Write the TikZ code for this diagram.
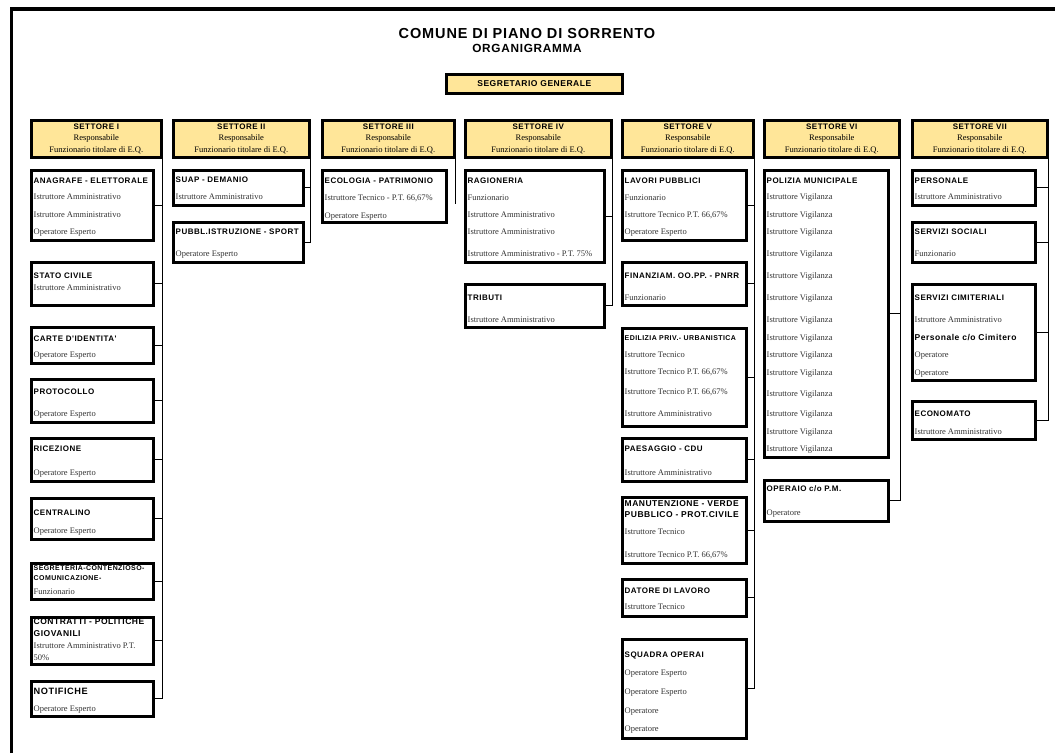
\documentclass[tikz,border=0pt]{standalone}
\usepackage{fontspec}
\setmainfont{Liberation Serif}
\setsansfont{Liberation Sans}
\newfontfamily\xlsans[LetterSpace=6]{Liberation Sans}
\usepackage{xcolor}
\definecolor{colorHeader}{RGB}{255,230,153}
\colorlet{colorStaff}{black!80}
\usepackage{tikz}
\newcommand{\sectName}[1]{{\xlsans\bfseries\fontsize{8}{11.7}\selectfont #1}}

\begin{document}
\begin{tikzpicture}[x=1pt, y=-1pt,
  hdr/.style={draw, line width=2.6pt, fill=colorHeader, anchor=north west, inner sep=0pt, minimum width=#1, minimum height=37pt, align=center, font=\fontsize{8.5}{11.7}\selectfont},
  unit/.style={draw, line width=2.6pt, anchor=north west, inner sep=0pt, minimum width=#1},
  link/.style={line width=0.8pt},
  ttl/.style={anchor=west, inner sep=0pt, xshift=1.5pt, text height=5.6pt, text depth=0pt, font=\xlsans\bfseries\fontsize{8}{9}\selectfont},
  sub/.style={anchor=west, inner sep=0pt, xshift=1.5pt, text height=5.2pt, text depth=0pt, text=colorStaff, font=\fontsize{8.5}{10}\selectfont}]
\useasboundingbox (0,0) rectangle (1055,753);
\draw[line width=3.5pt] (11.5,753) -- (11.5,9.2) -- (1055,9.2);

\node[font=\xlsans\bfseries\fontsize{14.5}{16}\selectfont] (title) at (527,34) {COMUNE DI PIANO DI SORRENTO};
\node[font=\xlsans\bfseries\fontsize{11.8}{13}\selectfont] (subtitle) at (527,48) {ORGANIGRAMMA};
\node[hdr=176pt, minimum height=19pt, font=\xlsans\bfseries\fontsize{8.5}{10}\selectfont] (segr) at (445,73) {SEGRETARIO GENERALE};

% settori
\foreach \n/\x/\w/\rom in {1/30/130/I, 2/172/136/II, 3/321/132/III, 4/464/146/IV, 5/621/131/V, 6/763/135/VI, 7/911/135/VII}
  \node[hdr=\w pt] (set\n) at (\x,119) {\sectName{SETTORE \rom}\\Responsabile\\Funzionario titolare di E.Q.};

% settore I
\node[unit=122pt, minimum height=70pt] (anag) at (30,169) {};
\node[unit=122pt, minimum height=43pt] (stato) at (30,261) {};
\node[unit=122pt, minimum height=36pt] (carte) at (30,326) {};
\node[unit=122pt, minimum height=43pt] (proto) at (30,378) {};
\node[unit=122pt, minimum height=43pt] (ricez) at (30,437) {};
\node[unit=122pt, minimum height=41pt] (centr) at (30,497) {};
\node[unit=122pt, minimum height=36pt] (segre) at (30,562) {};
\node[unit=122pt, minimum height=47pt] (contr) at (30,616) {};
\node[unit=122pt, minimum height=35pt] (notif) at (30,680) {};
\draw[link] (set1.south east) -- (notif.east -| set1.east);
\foreach \b in {anag, stato, carte, proto, ricez, centr, segre, contr, notif}
  \draw[link] (\b.east) -- (\b.east -| set1.east);

\node[ttl] (anag-t) at (32,181) {ANAGRAFE - ELETTORALE};
\foreach \y/\txt [count=\i] in {197/Istruttore Amministrativo, 215/Istruttore Amministrativo, 232/Operatore Esperto}
  \node[sub] (anag-\i) at (32,\y) {\txt};
\node[ttl] (stato-t) at (32,276) {STATO CIVILE};
\node[sub] (stato-1) at (32,288) {Istruttore Amministrativo};
\node[ttl] (carte-t) at (32,339) {CARTE D'IDENTITA'};
\node[sub] (carte-1) at (32,355) {Operatore Esperto};
\node[ttl] (proto-t) at (32,392) {PROTOCOLLO};
\node[sub] (proto-1) at (32,414) {Operatore Esperto};
\node[ttl] (ricez-t) at (32,449) {RICEZIONE};
\node[sub] (ricez-1) at (32,473) {Operatore Esperto};
\node[ttl] (centr-t) at (32,513) {CENTRALINO};
\node[sub] (centr-1) at (32,531) {Operatore Esperto};
\node[ttl, font=\xlsans\bfseries\fontsize{7}{8}\selectfont] (segre-t) at (32,568) {SEGRETERIA-CONTENZIOSO-};
\node[ttl, font=\xlsans\bfseries\fontsize{7}{8}\selectfont] (segre-u) at (32,578) {COMUNICAZIONE-};
\node[sub] (segre-1) at (32,592) {Funzionario};
\node[ttl, font=\xlsans\bfseries\fontsize{8.5}{9}\selectfont] (contr-t) at (32,622) {CONTRATTI - POLITICHE};
\node[ttl, font=\xlsans\bfseries\fontsize{8.5}{9}\selectfont] (contr-u) at (32,634) {GIOVANILI};
\node[sub] (contr-1) at (32,646) {Istruttore Amministrativo P.T.};
\node[sub] (contr-2) at (32,658) {50\%};
\node[ttl, font=\xlsans\bfseries\fontsize{9.2}{10}\selectfont] (notif-t) at (32,692) {NOTIFICHE};
\node[sub] (notif-1) at (32,709) {Operatore Esperto};

% settore II
\node[unit=130pt, minimum height=35pt] (suap) at (172,169) {};
\node[unit=130pt, minimum height=40pt] (pubbl) at (172,221) {};
\draw[link] (set2.south east) -- (pubbl.east -| set2.east);
\foreach \b in {suap, pubbl}
  \draw[link] (\b.east) -- (\b.east -| set2.east);
\node[ttl] (suap-t) at (174,180) {SUAP - DEMANIO};
\node[sub] (suap-1) at (174,197) {Istruttore Amministrativo};
\node[ttl] (pubbl-t) at (174,232) {PUBBL.ISTRUZIONE - SPORT};
\node[sub] (pubbl-1) at (174,254) {Operatore Esperto};

% settore III
\node[unit=124pt, minimum height=52pt] (ecol) at (321,169) {};
\draw[link] (set3.south east) -- ([yshift=-8pt]ecol.east -| set3.east);
\node[ttl] (ecol-t) at (323,181) {ECOLOGIA - PATRIMONIO};
\node[sub] (ecol-1) at (323,198) {Istruttore Tecnico - P.T. 66,67\%};
\node[sub] (ecol-2) at (323,216) {Operatore Esperto};

% settore IV
\node[unit=139pt, minimum height=92pt] (ragio) at (464,169) {};
\node[unit=139pt, minimum height=43pt] (tribu) at (464,283) {};
\draw[link] (set4.south east) -- (tribu.east -| set4.east);
\foreach \b in {ragio, tribu}
  \draw[link] (\b.east) -- (\b.east -| set4.east);
\node[ttl] (ragio-t) at (466,181) {RAGIONERIA};
\foreach \y/\txt [count=\i] in {198/Funzionario, 215/Istruttore Amministrativo, 232/Istruttore Amministrativo, 254/Istruttore Amministrativo - P.T. 75\%}
  \node[sub] (ragio-\i) at (466,\y) {\txt};
\node[ttl] (tribu-t) at (466,298) {TRIBUTI};
\node[sub] (tribu-1) at (466,320) {Istruttore Amministrativo};

% settore V
\node[unit=124pt, minimum height=70pt] (lavor) at (621,169) {};
\node[unit=124pt, minimum height=43pt] (finan) at (621,261) {};
\node[unit=124pt, minimum height=98pt] (edili) at (621,327) {};
\node[unit=124pt, minimum height=43pt] (paesa) at (621,437) {};
\node[unit=124pt, minimum height=66pt] (manut) at (621,496) {};
\node[unit=124pt, minimum height=37pt] (dator) at (621,578) {};
\node[unit=124pt, minimum height=99pt] (squad) at (621,638) {};
\draw[link] (set5.south east) -- (squad.east -| set5.east);
\foreach \b in {lavor, finan, edili, paesa, manut, dator, squad}
  \draw[link] (\b.east) -- (\b.east -| set5.east);
\node[ttl] (lavor-t) at (623,181) {LAVORI PUBBLICI};
\foreach \y/\txt [count=\i] in {198/Funzionario, 215/{Istruttore Tecnico P.T. 66,67\%}, 232/Operatore Esperto}
  \node[sub] (lavor-\i) at (623,\y) {\txt};
\node[ttl] (finan-t) at (623,276) {FINANZIAM. OO.PP. - PNRR};
\node[sub] (finan-1) at (623,298) {Funzionario};
\node[ttl, font=\xlsans\bfseries\fontsize{7}{8}\selectfont] (edili-t) at (623,338) {EDILIZIA PRIV.- URBANISTICA};
\foreach \y/\txt [count=\i] in {355/Istruttore Tecnico, 372/{Istruttore Tecnico P.T. 66,67\%}, 392/{Istruttore Tecnico P.T. 66,67\%}, 414/Istruttore Amministrativo}
  \node[sub] (edili-\i) at (623,\y) {\txt};
\node[ttl] (paesa-t) at (623,449) {PAESAGGIO - CDU};
\node[sub] (paesa-1) at (623,473) {Istruttore Amministrativo};
\node[ttl, font=\xlsans\bfseries\fontsize{8.5}{9}\selectfont] (manut-t) at (623,504) {MANUTENZIONE - VERDE};
\node[ttl, font=\xlsans\bfseries\fontsize{8.5}{9}\selectfont] (manut-u) at (623,515) {PUBBLICO - PROT.CIVILE};
\node[sub] (manut-1) at (623,532) {Istruttore Tecnico};
\node[sub] (manut-2) at (623,555) {Istruttore Tecnico P.T. 66,67\%};
\node[ttl] (dator-t) at (623,591) {DATORE DI LAVORO};
\node[sub] (dator-1) at (623,607) {Istruttore Tecnico};
\node[ttl] (squad-t) at (623,655) {SQUADRA OPERAI};
\foreach \y/\txt [count=\i] in {673/Operatore Esperto, 692/Operatore Esperto, 711/Operatore, 729/Operatore}
  \node[sub] (squad-\i) at (623,\y) {\txt};

% settore VI
\node[unit=124pt, minimum height=287pt] (poliz) at (763,169) {};
\node[unit=124pt, minimum height=41pt] (opera) at (763,479) {};
\draw[link] (set6.south east) -- (opera.east -| set6.east);
\foreach \b in {poliz, opera}
  \draw[link] (\b.east) -- (\b.east -| set6.east);
\node[ttl] (poliz-t) at (765,181) {POLIZIA MUNICIPALE};
\foreach \y [count=\i] in {197, 215, 232, 254, 276, 298, 320, 338, 355, 373, 394, 414, 432, 449}
  \node[sub] (poliz-\i) at (765,\y) {Istruttore Vigilanza};
\node[ttl] (opera-t) at (765,489) {OPERAIO c/o P.M.};
\node[sub] (opera-1) at (765,513) {Operatore};

% settore VII
\node[unit=123pt, minimum height=35pt] (perso) at (911,169) {};
\node[unit=123pt, minimum height=40pt] (socia) at (911,221) {};
\node[unit=123pt, minimum height=96pt] (cimit) at (911,283) {};
\node[unit=123pt, minimum height=38pt] (econo) at (911,400) {};
\draw[link] (set7.south east) -- (econo.east -| set7.east);
\foreach \b in {perso, socia, cimit, econo}
  \draw[link] (\b.east) -- (\b.east -| set7.east);
\node[ttl] (perso-t) at (913,181) {PERSONALE};
\node[sub] (perso-1) at (913,197) {Istruttore Amministrativo};
\node[ttl] (socia-t) at (913,232) {SERVIZI SOCIALI};
\node[sub] (socia-1) at (913,254) {Funzionario};
\node[ttl] (cimit-t) at (913,298) {SERVIZI CIMITERIALI};
\node[sub] (cimit-1) at (913,320) {Istruttore Amministrativo};
\node[ttl, font=\xlsans\bfseries\fontsize{8.5}{9}\selectfont] (cimit-u) at (913,338) {Personale c/o Cimitero};
\node[sub] (cimit-2) at (913,355) {Operatore};
\node[sub] (cimit-3) at (913,373) {Operatore};
\node[ttl] (econo-t) at (913,414) {ECONOMATO};
\node[sub] (econo-1) at (913,432) {Istruttore Amministrativo};
\end{tikzpicture}
\end{document}
